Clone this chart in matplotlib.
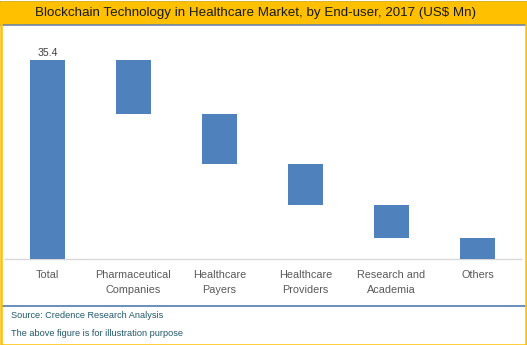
import matplotlib
matplotlib.use('Agg')
import matplotlib.pyplot as plt
from matplotlib.patches import Rectangle
from matplotlib.lines import Line2D
import numpy as np

plt.rcParams['font.family'] = ['Liberation Sans', 'DejaVu Sans']

categories = ['Total', 'Pharmaceutical\nCompanies', 'Healthcare\nPayers',
              'Healthcare\nProviders', 'Research and\nAcademia', 'Others']
total = 35.4
segments = [9.6, 8.9, 7.3, 5.8, 3.8]   # Pharma, Payers, Providers, Research, Others

# waterfall: heights and bottoms
heights = [total] + segments
bottoms = [0.0]
running = total
for s in segments:
    running -= s
    bottoms.append(running)

W, H = 527, 345
fig = plt.figure(figsize=(W / 100, H / 100), dpi=100)
fig.patch.set_facecolor('white')

# title band + frame
fig.patches.append(Rectangle((0, 1 - 25 / H), 1, 24 / H, transform=fig.transFigure,
                             facecolor='#FFC000', edgecolor='none', zorder=0))
for yy in [1 - 1.5 / H, 1 - 25 / H]:
    fig.lines.append(Line2D([0, 1], [yy, yy], transform=fig.transFigure,
                            color='#6E84A3', linewidth=1.2))
fig.lines.append(Line2D([2 / W, 525 / W], [1 - 305.5 / H, 1 - 305.5 / H],
                        transform=fig.transFigure, color='#4F7CB3', linewidth=1.2))
fig.patches.append(Rectangle((0.5 / W, 0.5 / H), (W - 1.5) / W, (H - 2.5) / H,
                             transform=fig.transFigure, fill=False,
                             edgecolor='#FFC000', linewidth=1.8, zorder=5))

fig.text(0.485, 1 - 13 / H, 'Blockchain Technology in Healthcare Market, by End-user, 2017 (US$ Mn)',
         ha='center', va='center', fontsize=9.6, color='#1a1a1a')
fig.text(11 / W, 1 - 316 / H, 'Source: Credence Research Analysis',
         ha='left', va='center', fontsize=6.6, color='#215868')
fig.text(11 / W, 1 - 333 / H, 'The above figure is for illustration purpose',
         ha='left', va='center', fontsize=6.6, color='#215868')

ax = fig.add_axes([4.5 / W, (H - 259) / H, 516 / W, (259 - 34.2) / H])
x = np.arange(len(categories))
ax.bar(x, heights, width=0.407, bottom=bottoms, color='#4F81BD', zorder=3)
ax.text(x[0], total + 0.4, f'{total}', ha='center', va='bottom',
        fontsize=7.6, color='#404040')

ax.set_xlim(-0.5, len(categories) - 0.5)
ax.set_ylim(0, 40)
ax.set_xticks(x)
ax.set_xticklabels(categories, fontsize=7.8, color='#595959', linespacing=1.65)
ax.tick_params(axis='x', length=0, pad=8)
ax.set_yticks([])
for side in ['top', 'right', 'left']:
    ax.spines[side].set_visible(False)
ax.spines['bottom'].set_color('#D9D9D9')
ax.spines['bottom'].set_linewidth(1.0)
ax.set_facecolor('none')

fig.savefig('out.png', dpi=100)
